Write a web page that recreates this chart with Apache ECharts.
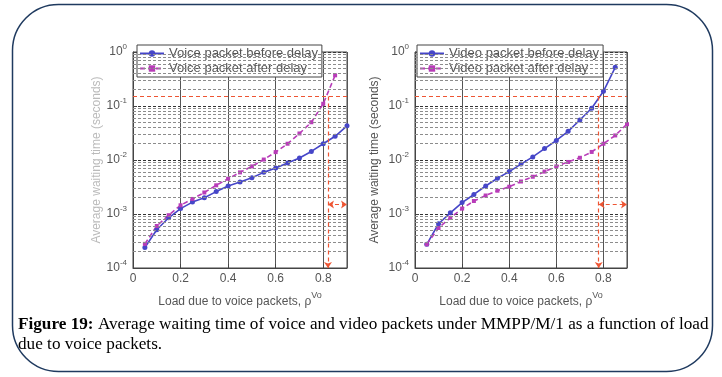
<!DOCTYPE html>
<html><head><meta charset="utf-8">
<script src="https://cdn.jsdelivr.net/npm/echarts@6/dist/echarts.min.js"></script>
<style>html,body{margin:0;padding:0;background:#fff}#c{width:722px;height:377px}</style>
</head><body><div id="c"></div>
<script>
const loads = [0.05,0.1,0.15,0.2,0.25,0.3,0.35,0.4,0.45,0.5,0.55,0.6,0.65,0.7,0.75,0.8,0.85,0.9];
const voiceBefore = [2.4e-4,5.1e-4,8.5e-4,1.26e-3,1.66e-3,2.0e-3,2.6e-3,3.3e-3,3.9e-3,4.7e-3,5.9e-3,7.1e-3,8.8e-3,1.09e-2,1.44e-2,2.0e-2,2.75e-2,4.3e-2];
const voiceAfter  = [2.8e-4,6.0e-4,9.5e-4,1.45e-3,1.9e-3,2.5e-3,3.4e-3,4.5e-3,5.9e-3,7.6e-3,1.02e-2,1.4e-2,2.0e-2,3.1e-2,5.0e-2,1.1e-1,3.7e-1];
const videoBefore = [2.75e-4,6.6e-4,1.05e-3,1.63e-3,2.3e-3,3.3e-3,4.6e-3,6.1e-3,8.4e-3,1.14e-2,1.63e-2,2.3e-2,3.4e-2,5.5e-2,9.1e-2,1.87e-1,5.2e-1];
const videoAfter  = [2.75e-4,5.5e-4,8.5e-4,1.26e-3,1.74e-3,2.2e-3,2.7e-3,3.2e-3,4.0e-3,4.9e-3,6.1e-3,7.6e-3,9.2e-3,1.1e-2,1.41e-2,2.0e-2,2.85e-2,4.6e-2];
const seriesNames = ['Voice packet before delay','Voice packet after delay','Video packet before delay','Video packet after delay'];
const delayBound = 0.15;
const voiceLimit = 0.82;
const videoLimit = 0.78;
const arrowLevel = 0.0015;
const xTickLabels = ['0','0.2','0.4','0.6','0.8'];
const yLabel = 'Average waiting time (seconds)';
const xLabel = 'Load due to voice packets, ρ';
const caption1 = 'Average waiting time of voice and video packets under MMPP/M/1 as a function of load';
const caption2 = 'due to voice packets.';

const minorLevels = [];
for (let k = -4; k < 0; k++) for (let m = 2; m <= 9; m++) minorLevels.push(+(m * Math.pow(10, k)).toPrecision(2));

const BLUE = '#4646c8', MAG = '#b83cb8', RED = '#ee5533';
const pair = (arr) => arr.map((v, i) => [loads[i], v]);

function xAxis(gi) {
  return {
    type: 'value', gridIndex: gi, min: 0, max: 0.9, interval: 0.2,
    axisLine: {show: true, lineStyle: {color: '#444'}},
    axisTick: {inside: true, length: 4, lineStyle: {color: '#444'}},
    axisLabel: {color: '#555', fontSize: 12, fontFamily: 'Liberation Sans', margin: 5, showMaxLabel: false,
      formatter: v => { const i = Math.round(v / 0.2); return (Math.abs(v - i*0.2) < 1e-6 && xTickLabels[i] !== undefined) ? xTickLabels[i] : ''; }},
    splitLine: {show: true, lineStyle: {color: '#555', width: 1}},
    name: '{t|' + xLabel + '}{s|Vo}', nameLocation: 'middle', nameGap: 23,
    nameTextStyle: {color: '#555', fontFamily: 'Liberation Sans', rich: {
      t: {fontSize: 12, color: '#555', fontFamily: 'Liberation Sans'},
      s: {fontSize: 9, color: '#555', fontFamily: 'Liberation Sans', padding: [0, 0, 12, 0]}}}
  };
}
function yAxis(gi, nameColor, gap) {
  return {
    type: 'log', logBase: 10, gridIndex: gi, min: 1e-4, max: 1,
    axisLine: {show: true, lineStyle: {color: '#444'}},
    axisTick: {inside: true, length: 4, lineStyle: {color: '#444'}},
    axisLabel: {color: '#555', fontFamily: 'Liberation Sans', margin: 6,
      formatter: v => '{b|10}{s|' + Math.round(Math.log10(v)) + '}',
      rich: {b: {fontSize: 12, color: '#555', fontFamily: 'Liberation Sans'},
             s: {fontSize: 8, color: '#555', fontFamily: 'Liberation Sans', padding: [0, 0, 11, 0]}}},
    splitLine: {show: true, lineStyle: {color: '#333', width: 1, type: [3, 2]}},
    name: yLabel, nameLocation: 'middle', nameGap: gap,
    nameTextStyle: {color: nameColor, fontSize: 12, fontFamily: 'Liberation Sans'}
  };
}
function gridSeries(gi) {
  return {
    type: 'line', xAxisIndex: gi, yAxisIndex: gi, data: [], silent: true, z: 1,
    markLine: {silent: true, symbol: 'none', label: {show: false}, animation: false,
      lineStyle: {color: '#8c8c8c', width: 1, type: [3, 2]},
      data: minorLevels.map(v => [{coord: [0, v]}, {coord: [0.9, v]}])}
  };
}
function redSeries(gi, limit) {
  return {
    type: 'line', xAxisIndex: gi, yAxisIndex: gi, data: [], silent: true, z: 3,
    markLine: {silent: true, label: {show: false}, animation: false, symbol: 'none',
      lineStyle: {color: RED, width: 1.2, type: [4, 3]},
      data: [
        [{coord: [0, delayBound]}, {coord: [0.9, delayBound]}],
        [{coord: [limit, delayBound], symbol: 'none'}, {coord: [limit, 1e-4], symbol: 'arrow', symbolSize: 6}],
        [{coord: [limit, arrowLevel], symbol: 'arrow', symbolSize: 6}, {coord: [0.9, arrowLevel], symbol: 'arrow', symbolSize: 6}]
      ]}
  };
}
function dataSeries(name, gi, arr, color, dashed, sym, size) {
  return {
    name, type: 'line', xAxisIndex: gi, yAxisIndex: gi, data: pair(arr), z: 4,
    symbol: sym, symbolSize: size, showSymbol: true,
    lineStyle: {color, width: 1.6, type: dashed ? [5, 3] : 'solid'},
    itemStyle: {color}
  };
}
function legend(left, names) {
  return {
    data: names, left, top: 45, orient: 'vertical', itemGap: 2, itemWidth: 24, itemHeight: 8,
    backgroundColor: '#fff', borderColor: '#444', borderWidth: 1, padding: [2, 4, 2, 2],
    textStyle: {color: '#555', fontSize: 13, fontFamily: 'Liberation Sans'}
  };
}

const chart = echarts.init(document.getElementById('c'), null, {renderer: 'canvas'});
chart.setOption({
  animation: false,
  backgroundColor: '#fff',
  grid: [
    {left: 133, top: 52, width: 214, height: 216, show: true, borderColor: '#444', borderWidth: 1, backgroundColor: 'transparent'},
    {left: 415, top: 52, width: 212, height: 216, show: true, borderColor: '#444', borderWidth: 1, backgroundColor: 'transparent'}
  ],
  xAxis: [xAxis(0), xAxis(1)],
  yAxis: [yAxis(0, '#bbb', 27), yAxis(1, '#555', 34)],
  legend: [legend(137, seriesNames.slice(0, 2)), legend(417, seriesNames.slice(2, 4))],
  series: [
    gridSeries(0), gridSeries(1),
    redSeries(0, voiceLimit), redSeries(1, videoLimit),
    dataSeries(seriesNames[0], 0, voiceBefore, BLUE, false, 'circle', 5),
    dataSeries(seriesNames[1], 0, voiceAfter, MAG, true, 'rect', 4),
    dataSeries(seriesNames[2], 1, videoBefore, BLUE, false, 'circle', 5),
    dataSeries(seriesNames[3], 1, videoAfter, MAG, true, 'rect', 4)
  ],
  graphic: [
    {type: 'rect', shape: {x: 12.5, y: 4.5, width: 700, height: 367, r: 46}, silent: true, z: -1,
     style: {fill: 'none', stroke: '#1f3a5f', lineWidth: 1.5}},
    {type: 'text', left: 18, top: 316, style: {rich: {
        b: {font: 'bold 17.2px "Liberation Serif"', fill: '#000'},
        n: {font: '17.2px "Liberation Serif"', fill: '#000'}},
      text: '{b|Figure 19:}{n| ' + caption1 + '}'}},
    {type: 'text', left: 18, top: 336, style: {text: caption2, font: '17.2px "Liberation Serif"', fill: '#000'}}
  ]
});
</script>
</body></html>
